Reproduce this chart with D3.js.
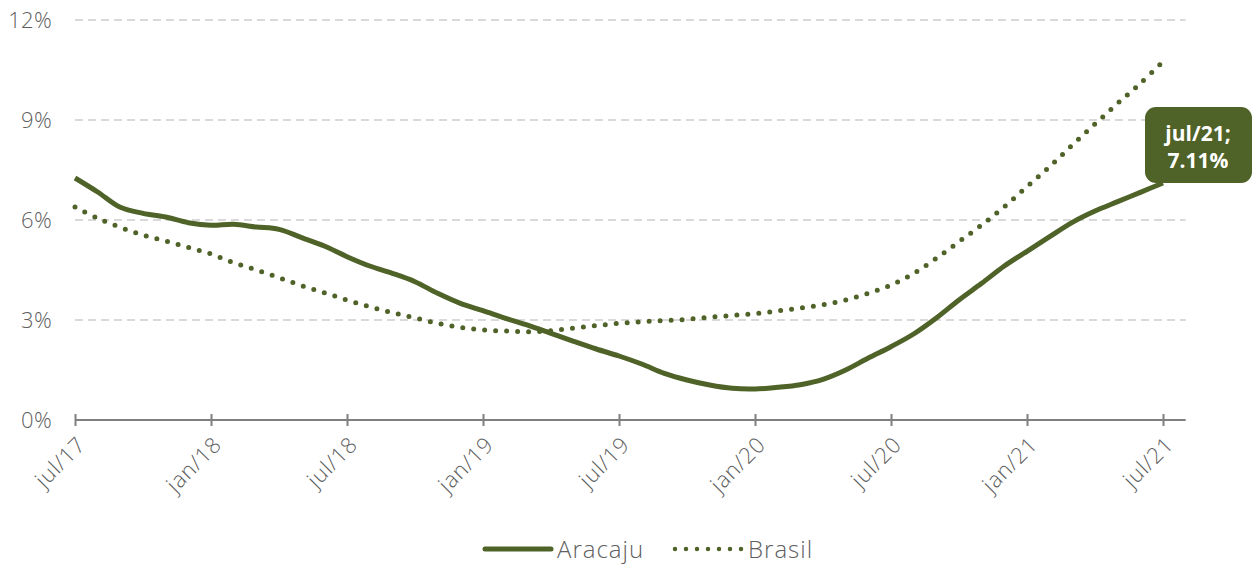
<!DOCTYPE html>
<html>
<head>
<meta charset="utf-8">
<script src="https://cdn.jsdelivr.net/npm/d3@7"></script>
<style>
  body { margin: 0; background: #fff; }
  text { font-family: "Open Sans", "Noto Sans", sans-serif; }
</style>
</head>
<body>
<svg id="chart" width="1253" height="565"></svg>
<script>
// months jul/17 .. jul/21
var months = d3.range(49).map(function (i) {
    var d = new Date(2017, 6 + i, 1);
    return ["jan","fev","mar","abr","mai","jun","jul","ago","set","out","nov","dez"][d.getMonth()] + "/" + String(d.getFullYear()).slice(2);
});
var tickLabels = ["jul/17", "jan/18", "jul/18", "jan/19", "jul/19", "jan/20", "jul/20", "jan/21", "jul/21"];
var yTicks = [0, 3, 6, 9, 12];

var aracaju = [7.26, 6.84, 6.38, 6.20, 6.09, 5.92, 5.84, 5.87, 5.79, 5.72, 5.47, 5.22, 4.90,
    4.62, 4.40, 4.15, 3.80, 3.50, 3.28, 3.05, 2.84, 2.60, 2.36, 2.13, 1.92,
    1.68, 1.40, 1.20, 1.05, 0.95, 0.93, 0.98, 1.06, 1.22, 1.50, 1.86, 2.20,
    2.58, 3.06, 3.60, 4.10, 4.62, 5.06, 5.50, 5.93, 6.27, 6.55, 6.83, 7.11];
var brasil = [6.39, 6.05, 5.78, 5.55, 5.37, 5.18, 4.98, 4.72, 4.50, 4.27, 4.03, 3.82, 3.60,
    3.40, 3.22, 3.06, 2.90, 2.78, 2.70, 2.67, 2.65, 2.68, 2.76, 2.83, 2.90,
    2.95, 2.98, 3.02, 3.08, 3.14, 3.19, 3.27, 3.36, 3.46, 3.60, 3.80, 4.05,
    4.40, 4.85, 5.35, 5.85, 6.40, 7.00, 7.60, 8.25, 8.88, 9.50, 10.10, 10.75];

var green = "#4f6228";
var gray = "#5f5f5f";

var svg = d3.select("#chart");

var x = d3.scalePoint().domain(months).range([75, 1163]);
var y = d3.scaleLinear().domain([0, 12]).range([420, 20]);
var step = x.step();

// gridlines
svg.append("g")
    .selectAll("line")
    .data(yTicks.filter(function (d) { return d > 0; }))
    .join("line")
    .attr("x1", x.range()[0])
    .attr("x2", x.range()[1] + step)
    .attr("y1", function (d) { return y(d); })
    .attr("y2", function (d) { return y(d); })
    .attr("stroke", "#d9d9d9")
    .attr("stroke-width", 2)
    .attr("stroke-dasharray", "8,5");

// y labels
svg.append("g")
    .selectAll("text")
    .data(yTicks)
    .join("text")
    .attr("x", 52)
    .attr("y", function (d) { return y(d); })
    .attr("dy", "0.36em")
    .attr("text-anchor", "end")
    .attr("font-size", "22px")
    .attr("font-weight", 300)
    .attr("letter-spacing", "0.3px")
    .attr("fill", gray)
    .text(function (d) { return d + "%"; });

// x axis
var xAxis = svg.append("g")
    .attr("transform", "translate(0," + y(0) + ")")
    .call(d3.axisBottom(x).tickValues(tickLabels).tickSize(6).tickFormat(""));
xAxis.select(".domain").remove();
xAxis.selectAll(".tick line").attr("y1", -6).attr("y2", 6).attr("stroke", "#7f7f7f").attr("stroke-width", 2);
xAxis.append("line")
    .attr("x1", x.range()[0]).attr("x2", x.range()[1] + step)
    .attr("stroke", "#7f7f7f").attr("stroke-width", 2);

svg.append("g")
    .selectAll("text")
    .data(tickLabels)
    .join("text")
    .attr("transform", function (d) { return "translate(" + (x(d) + 12) + "," + (y(0) + 26) + ") rotate(-45)"; })
    .attr("text-anchor", "end")
    .attr("font-size", "22px")
    .attr("font-weight", 300)
    .attr("letter-spacing", "0.8px")
    .attr("fill", gray)
    .text(function (d) { return d; });

// lines
var line = d3.line()
    .x(function (d, i) { return x(months[i]); })
    .y(function (d) { return y(d); })
    .curve(d3.curveCatmullRom.alpha(0.5));

svg.append("path")
    .datum(brasil)
    .attr("d", line)
    .attr("fill", "none")
    .attr("stroke", green)
    .attr("stroke-width", 5)
    .attr("stroke-linecap", "round")
    .attr("stroke-dasharray", "0,11");

svg.append("path")
    .datum(aracaju)
    .attr("d", line)
    .attr("fill", "none")
    .attr("stroke", green)
    .attr("stroke-width", 5)
    .attr("stroke-linejoin", "round");

// data label on last point
var lastI = aracaju.length - 1;
var lx = x(months[lastI]), ly = y(aracaju[lastI]);
var lbl = svg.append("g").attr("transform", "translate(" + lx + "," + ly + ")");
lbl.append("rect")
    .attr("x", -18).attr("y", -76)
    .attr("width", 107).attr("height", 76)
    .attr("rx", 11)
    .attr("fill", green);
lbl.append("text")
    .attr("x", 35).attr("y", -42)
    .attr("text-anchor", "middle")
    .attr("font-size", "21px")
    .attr("font-weight", "bold")
    .attr("fill", "#fff")
    .text(months[lastI] + ";");
lbl.append("text")
    .attr("x", 35).attr("y", -15)
    .attr("text-anchor", "middle")
    .attr("font-size", "21px")
    .attr("font-weight", "bold")
    .attr("fill", "#fff")
    .text(d3.format(".2f")(aracaju[lastI]) + "%");

// legend
var legend = svg.append("g").attr("transform", "translate(0,549)");
legend.append("line")
    .attr("x1", 485).attr("x2", 551)
    .attr("stroke", green).attr("stroke-width", 5).attr("stroke-linecap", "round");
legend.append("text")
    .attr("x", 557).attr("dy", "0.36em")
    .attr("font-size", "24px").attr("font-weight", 300)
    .attr("letter-spacing", "1px").attr("fill", gray)
    .text("Aracaju");
legend.append("line")
    .attr("x1", 675).attr("x2", 742)
    .attr("stroke", green).attr("stroke-width", 4.5).attr("stroke-linecap", "round")
    .attr("stroke-dasharray", "0,11");
legend.append("text")
    .attr("x", 748).attr("dy", "0.36em")
    .attr("font-size", "24px").attr("font-weight", 300)
    .attr("letter-spacing", "1px").attr("fill", gray)
    .text("Brasil");
</script>
</body>
</html>
